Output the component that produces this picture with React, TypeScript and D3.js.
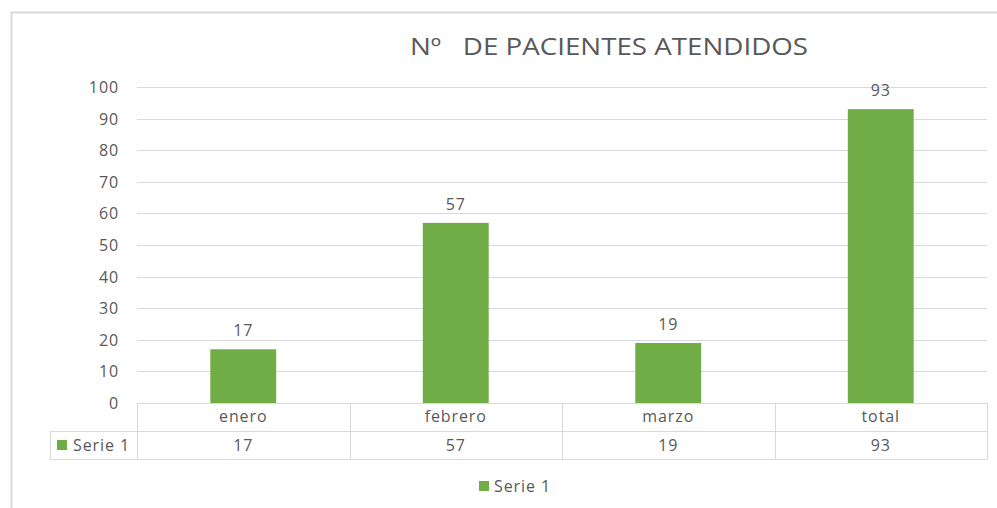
import React, { useEffect, useRef } from 'react';
import * as d3 from 'd3';

const categories = ['enero', 'febrero', 'marzo', 'total'];
const values = [17, 57, 19, 93];
const yTicks = [0, 10, 20, 30, 40, 50, 60, 70, 80, 90, 100];
const seriesName = 'Serie 1';
const title = 'Nº   DE PACIENTES ATENDIDOS';

const W = 997;
const H = 508;
const plot = { left: 137, right: 987, top: 87, bottom: 403 };
const rowH = 28;
const tableLeft = 50;
const green = '#70ad47';
const gridColor = '#d9d9d9';
const textColor = '#595959';
const font = '"Open Sans", "Noto Sans", sans-serif';

export default function App() {
  const ref = useRef<SVGSVGElement>(null);

  useEffect(() => {
    const svg = d3.select(ref.current);
    svg.selectAll('*').remove();

    const x = d3.scaleBand().domain(categories).range([plot.left, plot.right]).paddingInner(0).paddingOuter(0);
    const y = d3.scaleLinear().domain([0, 100]).range([plot.bottom, plot.top]);
    const barW = x.bandwidth() * 0.31;

    const label = (sel: any) =>
      sel.attr('font-family', font)
        .attr('font-size', 16)
        .attr('letter-spacing', 0.9)
        .attr('fill', textColor);

    // chart frame
    svg.append('path')
      .attr('d', `M11.5,${H} V12.5 H${W}`)
      .attr('fill', 'none')
      .attr('stroke', gridColor)
      .attr('stroke-width', 2);

    svg.append('text')
      .attr('x', 410)
      .attr('y', 55)
      .attr('font-family', font)
      .attr('font-size', 24)
      .attr('fill', textColor)
      .attr('textLength', 398)
      .attr('lengthAdjust', 'spacingAndGlyphs')
      .attr('xml:space', 'preserve')
      .text(title);

    // gridlines
    svg.append('g')
      .selectAll('line')
      .data(yTicks.filter(t => t > 0))
      .join('line')
      .attr('x1', plot.left)
      .attr('x2', plot.right)
      .attr('y1', d => Math.round(y(d)) + 0.5)
      .attr('y2', d => Math.round(y(d)) + 0.5)
      .attr('stroke', gridColor);

    // y labels
    svg.append('g')
      .selectAll('text')
      .data(yTicks)
      .join('text')
      .attr('x', 119)
      .attr('y', d => y(d) + 6)
      .attr('text-anchor', 'end')
      .call(label)
      .text(d => d);

    // bars
    svg.append('g')
      .selectAll('rect')
      .data(values)
      .join('rect')
      .attr('x', (d, i) => x(categories[i])! + x.bandwidth() / 2 - barW / 2)
      .attr('y', d => y(d))
      .attr('width', barW)
      .attr('height', d => y(0) - y(d))
      .attr('fill', green);

    // data labels
    svg.append('g')
      .selectAll('text')
      .data(values)
      .join('text')
      .attr('x', (d, i) => x(categories[i])! + x.bandwidth() / 2)
      .attr('y', d => y(d) - 13)
      .attr('text-anchor', 'middle')
      .call(label)
      .text(d => d);

    // data table
    const t = svg.append('g').attr('stroke', gridColor).attr('fill', 'none');
    const r1 = plot.bottom, r2 = plot.bottom + rowH, r3 = plot.bottom + 2 * rowH;
    t.append('line').attr('x1', plot.left).attr('x2', plot.right).attr('y1', r1 + 0.5).attr('y2', r1 + 0.5);
    t.append('line').attr('x1', tableLeft).attr('x2', plot.right).attr('y1', r2 + 0.5).attr('y2', r2 + 0.5);
    t.append('line').attr('x1', tableLeft).attr('x2', plot.right).attr('y1', r3 + 0.5).attr('y2', r3 + 0.5);
    t.append('line').attr('x1', tableLeft + 0.5).attr('x2', tableLeft + 0.5).attr('y1', r2).attr('y2', r3);
    const cols = categories.map(c => x(c)!).concat([plot.right]);
    t.selectAll('line.col')
      .data(cols)
      .join('line')
      .attr('class', 'col')
      .attr('x1', d => Math.round(d) + 0.5)
      .attr('x2', d => Math.round(d) + 0.5)
      .attr('y1', r1)
      .attr('y2', r3);

    svg.append('g')
      .selectAll('text')
      .data(categories)
      .join('text')
      .attr('x', d => x(d)! + x.bandwidth() / 2)
      .attr('y', r1 + 19)
      .attr('text-anchor', 'middle')
      .call(label)
      .text(d => d);

    svg.append('g')
      .selectAll('text')
      .data(values)
      .join('text')
      .attr('x', (d, i) => x(categories[i])! + x.bandwidth() / 2)
      .attr('y', r2 + 20)
      .attr('text-anchor', 'middle')
      .call(label)
      .text(d => d);

    svg.append('rect')
      .attr('x', 57).attr('y', r2 + 9).attr('width', 10).attr('height', 10).attr('fill', green);
    svg.append('text')
      .attr('x', 73).attr('y', r2 + 20)
      .call(label)
      .text(seriesName);

    // legend
    svg.append('rect')
      .attr('x', 479).attr('y', 481).attr('width', 10).attr('height', 10).attr('fill', green);
    svg.append('text')
      .attr('x', 494).attr('y', 492)
      .call(label)
      .text(seriesName);
  }, []);

  return (
    <svg
      ref={ref}
      width={W}
      height={H}
      style={{ position: 'absolute', left: 0, top: 0, background: '#fff' }}
    />
  );
}
